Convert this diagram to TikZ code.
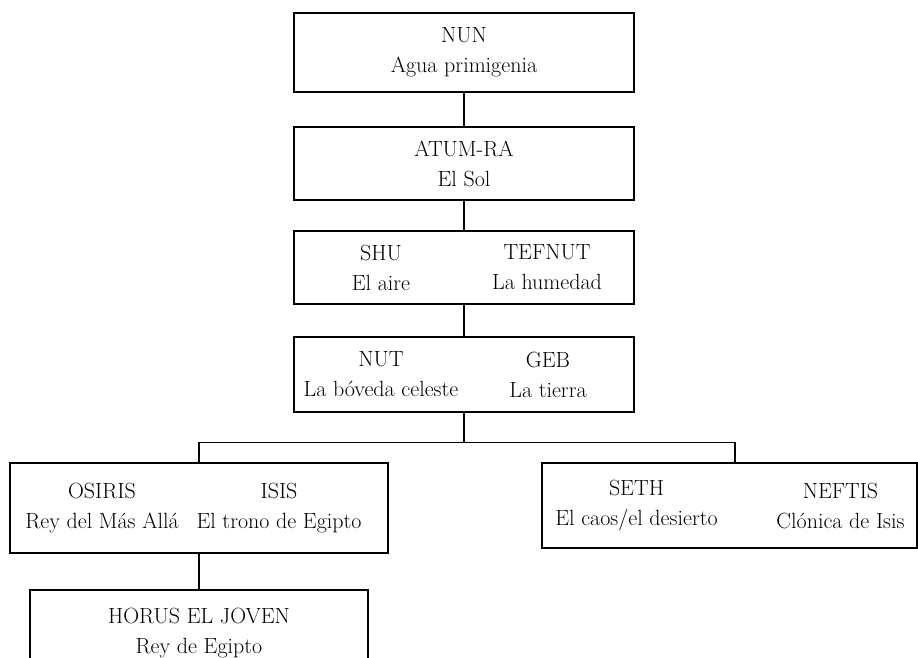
\documentclass[tikz,border=0pt]{standalone}
\usepackage{tikz}
\usetikzlibrary{positioning}
\newcommand{\godfont}{\fontsize{22}{30}\selectfont}
\tikzset{
  godbox/.style={draw,line width=1.1pt,inner sep=0pt},
  godtext/.style={align=center,font=\godfont,inner sep=0pt},
}
\begin{document}
\begin{tikzpicture}[x=1pt,y=-1pt,
    link/.style={line width=1.1pt},
  ]
  \useasboundingbox (0,0) rectangle (918,658);
  % Top of the line
  \node[godbox,godtext,minimum width=340pt,minimum height=79pt] (nun) at (464,52.5) {NUN\\Agua primigenia};
  \node[godbox,godtext,minimum width=340pt,minimum height=73pt] (atum) at (464,163.5) {ATUM-RA\\El Sol};
  % Pairs
  \node[godbox,minimum width=340pt,minimum height=73pt] (shubox) at (464,267.5) {};
  \node[godtext] (shu) at ([xshift=-83pt]shubox.center) {SHU\\El aire};
  \node[godtext] (tefnut) at ([xshift=83pt]shubox.center) {TEFNUT\\La humedad};
  \node[godbox,minimum width=340pt,minimum height=75pt] (nutbox) at (464,374.5) {};
  \node[godtext] (nut) at ([xshift=-83pt]nutbox.center) {NUT\\La bóveda celeste};
  \node[godtext] (geb) at ([xshift=84pt]nutbox.center) {GEB\\La tierra};
  % Children of Nut and Geb
  \node[godbox,minimum width=378pt,minimum height=90pt] (osirisbox) at (199,508) {};
  \node[godtext] (osiris) at ([xshift=-97pt]osirisbox.center) {OSIRIS\\Rey del Más Allá};
  \node[godtext] (isis) at ([xshift=80pt]osirisbox.center) {ISIS\\El trono de Egipto};
  \node[godbox,minimum width=375pt,minimum height=85pt] (sethbox) at (729.5,505.5) {};
  \node[godtext] (seth) at ([xshift=-93pt]sethbox.center) {SETH\\El caos/el desierto};
  \node[godtext] (neftis) at ([xshift=111pt]sethbox.center) {NEFTIS\\Clónica de Isis};
  % Horus
  \node[godbox,godtext,minimum width=338pt,minimum height=86pt] (horus) at (199,633) {HORUS EL JOVEN\\Rey de Egipto};
  % Links
  \draw[link] (nun) -- (atum);
  \draw[link] (atum) -- (shubox);
  \draw[link] (shubox) -- (nutbox);
  \draw[link] (nutbox.south) -- ++(0,30) coordinate (split);
  \draw[link] (split) -| (osirisbox.north);
  \draw[link] (split) -| ([xshift=5.5pt]sethbox.north);
  \draw[link] (osirisbox) -- (horus);
\end{tikzpicture}
\end{document}
